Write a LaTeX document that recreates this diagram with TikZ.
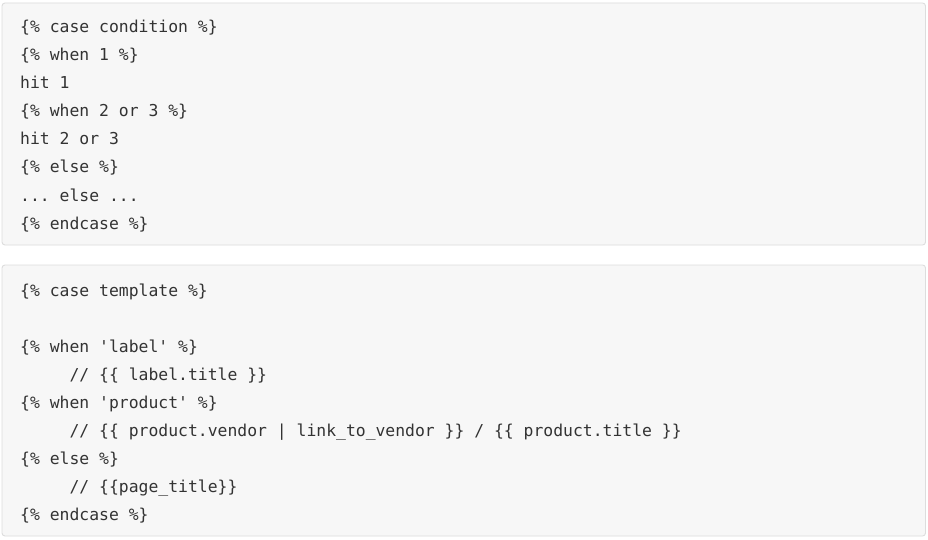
\documentclass[tikz,border=0pt]{standalone}
\usepackage{fontspec}
\setmonofont{DejaVu Sans Mono}
\definecolor{codebg}{HTML}{F7F7F7}
\definecolor{codeborder}{HTML}{DDDDDD}
\definecolor{codetext}{HTML}{333333}
\begin{document}
\begin{tikzpicture}[x=1pt,y=-1pt,
  codebox/.style={draw=codeborder,fill=codebg,rounded corners=3pt,line width=0.9pt},
  codeline/.style={anchor=base west,inner sep=0pt,text=codetext,font=\ttfamily\fontsize{16.4}{20}\selectfont}]
\useasboundingbox[fill=white] (0,0) rectangle (928,540);
\draw[codebox] (2,3) rectangle (925.5,245);
\draw[codebox] (2,265) rectangle (925.5,536);
% box 1
\node[codeline] (a1) at (20,33) {\{\% case condition \%\}};
\node[codeline] (a2) at (20,61) {\{\% when 1 \%\}};
\node[codeline] (a3) at (20,89) {hit 1};
\node[codeline] (a4) at (20,117) {\{\% when 2 or 3 \%\}};
\node[codeline] (a5) at (20,145) {hit 2 or 3};
\node[codeline] (a6) at (20,173) {\{\% else \%\}};
\node[codeline] (a7) at (20,201) {... else ...};
\node[codeline] (a8) at (20,229) {\{\% endcase \%\}};
% box 2
\node[codeline] (b1) at (20,296) {\{\% case template \%\}};
\node[codeline] (b2) at (20,352) {\{\% when 'label' \%\}};
\node[codeline] (b3) at (20,380) {\ \ \ \ \ // \{\{ label.title \}\}};
\node[codeline] (b4) at (20,408) {\{\% when 'product' \%\}};
\node[codeline] (b5) at (20,436) {\ \ \ \ \ // \{\{ product.vendor | link\_to\_vendor \}\} / \{\{ product.title \}\}};
\node[codeline] (b6) at (20,464) {\{\% else \%\}};
\node[codeline] (b7) at (20,492) {\ \ \ \ \ // \{\{page\_title\}\}};
\node[codeline] (b8) at (20,520) {\{\% endcase \%\}};
\end{tikzpicture}
\end{document}
